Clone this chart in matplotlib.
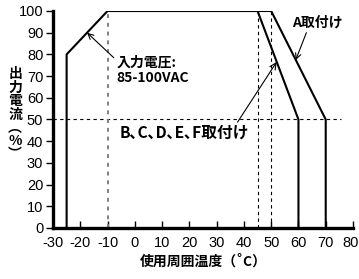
import matplotlib
matplotlib.use("Agg")
import matplotlib.pyplot as plt
import matplotlib.transforms as mtransforms

plt.rcParams["font.family"] = ["Liberation Sans Narrow", "Liberation Sans", "Noto Sans CJK JP", "DejaVu Sans"]
plt.rcParams["axes.unicode_minus"] = False

# derating curves (ambient temperature degC -> output current %)
bcdef_temp = [-25, -25, -10, 45, 60, 60]
bcdef_load = [0, 80, 100, 100, 50, 0]
a_temp = [-10, 50, 70, 70]
a_load = [100, 100, 50, 0]

# reference guide lines
guide_temps = [45, 50]
low_temp_guide = -10
half_load = 50

x_ticks = list(range(-30, 81, 10))
y_ticks = list(range(0, 101, 10))

JP = ["Noto Sans CJK JP", "DejaVu Sans"]

fig = plt.figure(figsize=(3.59, 2.79), dpi=100)
ax = fig.add_axes([0.1476, 0.1828, 0.8357, 0.7778])

ax.plot(bcdef_temp, bcdef_load, color="black", lw=1.5, solid_joinstyle="miter", zorder=3)
ax.plot(a_temp, a_load, color="black", lw=1.5, solid_joinstyle="miter", zorder=3)

ax.plot([-30, 75.5], [half_load, half_load], color="black", lw=0.8, ls=(0, (3, 3)), zorder=2)
ax.plot([low_temp_guide, low_temp_guide], [0, 100], color="#808080", lw=1.4, ls=(0, (2, 2.5)), zorder=2)
for t in guide_temps:
    ax.plot([t, t], [0, 100], color="black", lw=0.8, ls=(0, (3, 3)), zorder=2)

ax.set_xlim(-30, 80)
ax.set_ylim(0, 100)
ax.set_xticks(x_ticks)
ax.set_yticks(y_ticks)
ax.tick_params(axis="x", direction="in", length=5, width=1, labelsize=10.5, pad=6)
ax.tick_params(axis="y", direction="out", length=5, width=1, labelsize=10.5, pad=2)
for s in ["top", "right"]:
    ax.spines[s].set_visible(False)
for s in ["left", "bottom"]:
    ax.spines[s].set_linewidth(2.4)
ax.spines["left"].set_bounds(0, 100)

# keep the last x label inside the canvas
last = ax.get_xticklabels()[-1]
last.set_transform(last.get_transform() + mtransforms.ScaledTranslation(-2 / 100, 0, fig.dpi_scale_trans))

ax.annotate("入力電圧:\n85-100VAC", xy=(-17.5, 90), xytext=(-6.7, 72.5),
            fontsize=10, fontweight="bold", family=JP, ha="left", va="center",
            linespacing=1.15,
            arrowprops=dict(arrowstyle="->", color="black", lw=0.8, shrinkA=0, shrinkB=0,
                            relpos=(0, 0.85)))
ax.annotate("A取付け", xy=(59, 77.4), xytext=(67, 94.5),
            fontsize=10, fontweight="bold", family=JP, ha="center", va="center",
            arrowprops=dict(arrowstyle="->", color="black", lw=0.8, shrinkA=0, shrinkB=0,
                            relpos=(0.3, 0)))
ax.annotate("B､C､D､E､F取付け", xy=(52, 76.5), xytext=(18, 43.8),
            fontsize=11.3, fontweight="bold", family=JP, ha="center", va="center",
            arrowprops=dict(arrowstyle="->", color="black", lw=0.8, shrinkA=0, shrinkB=0,
                            relpos=(0.9, 1)))

fig.text(0.042, 0.59, "出\n力\n電\n流\n︵\n%\n︶", family=JP, fontsize=10, fontweight="bold",
         ha="center", va="center", linespacing=0.95)
ax.set_xlabel("使用周囲温度（˚C）", family=JP, fontsize=10, fontweight="bold", labelpad=3)

fig.savefig("out.png", dpi=100)
